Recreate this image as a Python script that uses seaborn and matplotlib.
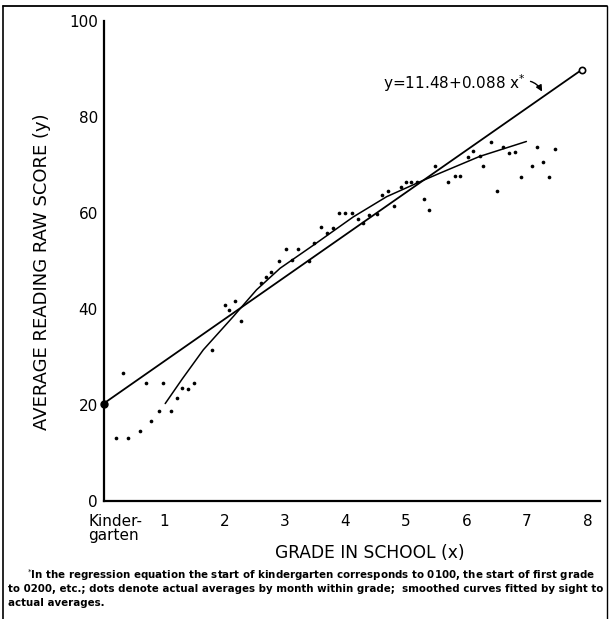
import numpy as np
import pandas as pd
import matplotlib
matplotlib.use("Agg")
import matplotlib.pyplot as plt
import matplotlib.transforms as mtransforms
from matplotlib.lines import Line2D
import seaborn as sns

# ---------------- data ----------------
grade_x = [0.21, 0.40, 0.32, 0.60, 0.70, 0.79, 0.92, 0.98, 1.11, 1.22,
           1.29, 1.39, 1.50, 1.79, 2.01, 2.08, 2.18, 2.28, 2.61, 2.69,
           2.77, 2.90, 3.01, 3.12, 3.22, 3.39, 3.48, 3.60, 3.69, 3.80,
           3.89, 3.99, 4.11, 4.21, 4.29, 4.39, 4.52, 4.61, 4.71, 4.80,
           4.92, 5.00, 5.08, 5.19, 5.30, 5.38, 5.48, 5.70, 5.81, 5.89,
           6.03, 6.10, 6.22, 6.28, 6.40, 6.50, 6.61, 6.70, 6.80, 6.90,
           7.08, 7.17, 7.27, 7.36, 7.47]
scores = [13.2, 13.2, 26.6, 14.6, 24.5, 16.7, 18.8, 24.5, 18.8, 21.4,
          23.6, 23.3, 24.5, 31.5, 40.8, 39.7, 41.6, 37.4, 45.5, 46.6,
          47.8, 49.9, 52.6, 50.3, 52.6, 49.9, 53.7, 57.0, 55.8, 56.8,
          59.9, 59.9, 59.9, 58.75, 57.85, 59.6, 59.8, 63.75, 64.6, 61.5,
          65.5, 66.5, 66.5, 66.5, 63.0, 60.6, 69.8, 66.4, 67.7, 67.7,
          71.7, 73.0, 71.8, 69.8, 74.8, 64.6, 73.7, 72.6, 72.7, 67.4,
          69.8, 73.8, 70.7, 67.4, 73.3]

curve_x = [1.02, 1.30, 1.65, 2.15, 2.53, 2.92, 3.47, 4.13, 4.68, 5.23, 5.56, 6.22, 6.99]
curve_y = [20.3, 25.4, 31.5, 38.5, 44.0, 48.5, 53.3, 59.2, 63.4, 66.5, 68.3, 71.8, 74.9]

reg_intercept = 11.48
reg_slope = 0.088
reg_range = [0.0, 7.91]

x_ticks = [0, 1, 2, 3, 4, 5, 6, 7, 8]
x_ticklabels = ["Kinder-\ngarten", "1", "2", "3", "4", "5", "6", "7", "8"]
y_ticks = [0, 20, 40, 60, 80, 100]

x_title = "GRADE IN SCHOOL (x)"
y_title = "AVERAGE READING RAW SCORE (y)"
eq_text = "y=11.48+0.088 x$^{*}$"
footnote = ["$^{*}$In the regression equation the start of kindergarten corresponds to 0100, the start of first grade",
            "to 0200, etc.; dots denote actual averages by month within grade;  smoothed curves fitted by sight to",
            "actual averages."]

# ---------------- frames ----------------
dots = pd.DataFrame({"grade": grade_x, "score": scores})
curve = pd.DataFrame({"grade": curve_x, "score": curve_y})
reg_x = np.array(reg_range)
reg = pd.DataFrame({"grade": reg_x,
                    "score": reg_intercept + reg_slope * 100 * (reg_x + 1)})

sns.set_theme(style="white")
plt.rcParams["font.family"] = ["DejaVu Sans"]
plt.rcParams["text.color"] = "black"
plt.rcParams["xtick.color"] = "black"
plt.rcParams["ytick.color"] = "black"
plt.rcParams["axes.labelcolor"] = "black"

W, H = 611, 619
fig = plt.figure(figsize=(W / 100, H / 100), dpi=100)

def px(x, y):
    return x / W, 1 - y / H

left, right, top, bottom = 103.5, 600, 21, 501
ax = fig.add_axes([left / W, 1 - bottom / H, (right - left) / W, (bottom - top) / H])

sns.scatterplot(data=dots, x="grade", y="score", ax=ax, color="black",
                s=7, linewidth=0, legend=False, zorder=3)
sns.lineplot(data=reg, x="grade", y="score", ax=ax, color="black",
             linewidth=1.3, estimator=None, sort=False, zorder=2)
sns.lineplot(data=curve, x="grade", y="score", ax=ax, color="black",
             linewidth=1.1, estimator=None, sort=False, zorder=2)
# endpoints of regression line
ax.plot(reg["grade"].iloc[:1], reg["score"].iloc[:1], "o", color="black",
        markersize=5, zorder=4, clip_on=False)
ax.plot(reg["grade"].iloc[-1:], reg["score"].iloc[-1:], "o", mfc="white",
        mec="black", markersize=4.5, mew=1.2, zorder=4, clip_on=False)

ax.set_xlim(0, (right - left) / 60.5)
ax.set_ylim(0, 100)
for s in ["top", "right"]:
    ax.spines[s].set_visible(False)
for s in ["left", "bottom"]:
    ax.spines[s].set_color("black")
    ax.spines[s].set_linewidth(1.6)

ax.set_xticks(x_ticks)
ax.set_xticklabels(x_ticklabels, fontsize=11)
ax.set_yticks(y_ticks)
ax.set_yticklabels([str(v) for v in y_ticks], fontsize=11)
ax.tick_params(axis="y", direction="in", length=15, width=1.4, color="black", pad=4)
ax.tick_params(axis="x", direction="in", length=11, width=1.2, color="black", pad=9)
lab0 = ax.get_xticklabels()[0]
lab0.set_ha("left")
lab0.set_linespacing(0.95)
lab0.set_transform(lab0.get_transform() +
                   mtransforms.ScaledTranslation(-15 / 100, 0, fig.dpi_scale_trans))
ax.set_xlabel("")
ax.set_ylabel("")

# axis titles
fig.text(*px(370, 553), x_title, ha="center", va="center", fontsize=12.3)
fig.text(*px(42, 272), y_title, ha="center", va="center", rotation=90, fontsize=13)

# equation annotation
ax.annotate(eq_text, xy=(7.25, 85.3), xytext=(5.8, 87.1),
            ha="center", va="center", fontsize=11,
            arrowprops=dict(arrowstyle="-|>", color="black", lw=1.0,
                            mutation_scale=9, relpos=(1.0, 0.6),
                            shrinkA=1, shrinkB=0,
                            connectionstyle="angle3,angleA=0,angleB=-60"))

# footnote, scaled to the widths in the reference
renderer = fig.canvas.get_renderer()
foot_specs = [(27, 575, 598), (8, 589, 599), (8, 603, None)]
base_size = 9.0
foot_texts = []
for line, (x0, y0, x1) in zip(footnote, foot_specs):
    t = fig.text(*px(x0, y0), line, ha="left", va="center", fontsize=base_size,
                 fontweight="bold")
    foot_texts.append((t, x0, x1))
scale = 1.0
for t, x0, x1 in foot_texts:
    if x1 is not None:
        w = t.get_window_extent(renderer).width
        scale = min(scale, (x1 - x0) / w)
for t, x0, x1 in foot_texts:
    t.set_fontsize(base_size * scale)

# page frame
fig.add_artist(Line2D([3 / W, 607 / W], [1 - 6 / H, 1 - 6 / H], color="black", lw=1.3))
fig.add_artist(Line2D([3 / W, 3 / W], [1 - 6 / H, 0], color="black", lw=1.2))
fig.add_artist(Line2D([607 / W, 607 / W], [1 - 6 / H, 0], color="black", lw=1.0))

fig.savefig("out.png", dpi=100, facecolor="white")
